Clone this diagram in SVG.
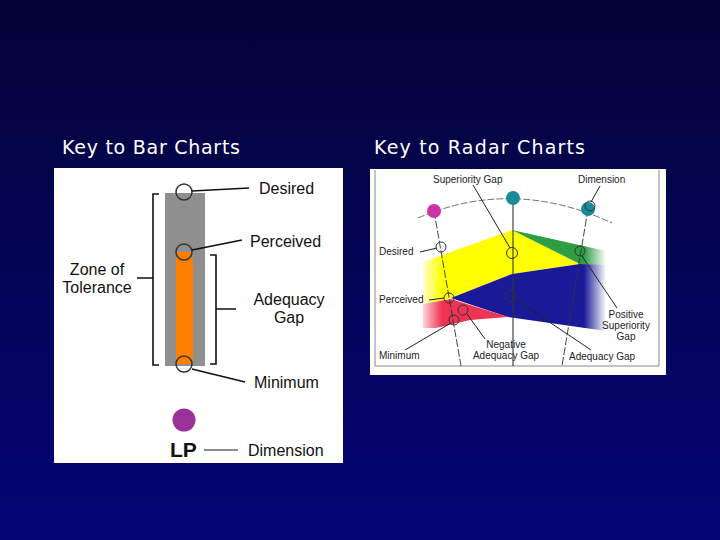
<svg xmlns="http://www.w3.org/2000/svg" width="720" height="540" viewBox="0 0 720 540">
<defs>
<linearGradient id="bg" x1="0" y1="0" x2="0" y2="1"><stop offset="0" stop-color="#040438"/><stop offset="1" stop-color="#040476"/></linearGradient>
<linearGradient id="fadeL" x1="0" y1="0" x2="1" y2="0"><stop offset="0" stop-color="#fff" stop-opacity="1"/><stop offset="1" stop-color="#fff" stop-opacity="0"/></linearGradient>
<linearGradient id="fadeR" x1="0" y1="0" x2="1" y2="0"><stop offset="0" stop-color="#fff" stop-opacity="0"/><stop offset="0.85" stop-color="#fff" stop-opacity="1"/><stop offset="1" stop-color="#fff" stop-opacity="1"/></linearGradient>
<style>
.title{font-family:"DejaVu Sans",sans-serif;font-size:19px;fill:#ffffff}
.bl{font-family:"Liberation Sans",Arial,sans-serif;font-size:16px;fill:#111}
.rl{font-family:"Liberation Sans",Arial,sans-serif;font-size:10px;fill:#222}
.ln{stroke:#111;stroke-width:1.6;fill:none}
.rln{stroke:#222;stroke-width:1;fill:none}
.ring{fill:none;stroke:#333;stroke-width:1.5}
.rring{fill:none;stroke:#333;stroke-width:1}
</style>
</defs>
<rect x="0" y="0" width="720" height="540" fill="url(#bg)"/>
<text class="title" x="62" y="154" textLength="178">Key to Bar Charts</text>
<text class="title" x="374" y="154" textLength="211">Key to Radar Charts</text>

<g id="bar-key">
<rect x="54" y="168" width="289" height="295" fill="#ffffff"/>
<rect x="165" y="193" width="40" height="173" fill="#8f8f8f"/>
<rect x="176" y="258" width="17" height="103" fill="#ff8000"/>
<path d="M176,252 A8,8 0 0 0 192,252 Z" fill="#ff8000"/>
<path d="M176,364 A8,8 0 0 1 192,364 Z" fill="#ff8000"/>
<circle class="ring" cx="184" cy="192" r="8"/>
<circle class="ring" cx="184" cy="252" r="8"/>
<circle class="ring" cx="184" cy="364" r="8"/>
<circle cx="184" cy="420" r="11.5" fill="#993399"/>
</g>
<g id="bar-labels">
<path class="ln" d="M159,194 H153 V365 H159 M153,278 H137"/>
<path class="ln" d="M210,255 H216 V364 H210 M216,309 H236"/>
<text class="bl" x="97" y="275" text-anchor="middle">Zone of</text>
<text class="bl" x="97" y="293" text-anchor="middle">Tolerance</text>
<text class="bl" x="289" y="305" text-anchor="middle">Adequacy</text>
<text class="bl" x="289" y="323" text-anchor="middle">Gap</text>
<text class="bl" x="259" y="194">Desired</text>
<text class="bl" x="250" y="247">Perceived</text>
<text class="bl" x="254" y="388">Minimum</text>
<text x="170" y="457" style="font-family:'Liberation Sans',Arial,sans-serif;font-size:21px;font-weight:bold;fill:#111">LP</text>
<text class="bl" x="248" y="456">Dimension</text>
</g>
<g id="bar-connectors">
<line class="ln" x1="192" y1="191" x2="249" y2="188"/>
<line class="ln" x1="192" y1="250" x2="242" y2="240"/>
<line class="ln" x1="192" y1="369" x2="245" y2="382"/>
<line x1="204" y1="450" x2="238" y2="450" stroke="#666" stroke-width="1.5"/>
</g>

<g id="radar-key">
<rect x="370" y="169" width="296" height="206" fill="#ffffff"/>
<path d="M375,170 V366 H659 V170" fill="none" stroke="#888" stroke-width="1"/>
<polygon points="423,262 512,230 580,264 512,274 451,298 433,304 423,303" fill="#ffff00"/>
<polygon points="512,230 606,251 606,266 580,264" fill="#2e9e44"/>
<polygon points="451,298 512,274 580,264 606,265 606,331 508,317" fill="#1a1a99"/>
<polygon points="423,304 451,299 508,317 470,320 436,328 423,328" fill="#ee3355"/>
<rect x="418" y="255" width="24" height="78" fill="url(#fadeL)"/>
<rect x="584" y="245" width="26" height="90" fill="url(#fadeR)"/>
<path d="M418,218 Q513,177 612,223" fill="none" stroke="#333" stroke-width="0.7" stroke-dasharray="7,2"/>
<line x1="434" y1="211" x2="461" y2="366" stroke="#333" stroke-width="0.9" stroke-dasharray="8,2"/>
<line x1="513" y1="198" x2="513" y2="366" stroke="#333" stroke-width="1.1"/>
<line x1="588" y1="209" x2="562" y2="366" stroke="#333" stroke-width="0.9" stroke-dasharray="8,2"/>
<circle cx="434" cy="211" r="7" fill="#cc33aa"/>
<circle cx="513" cy="198" r="7" fill="#1a8c99"/>
<circle cx="588" cy="209" r="7" fill="#1a8c99"/>
<circle class="rring" cx="590" cy="206" r="5"/>
<circle class="rring" cx="441" cy="247" r="5"/>
<circle class="rring" cx="449" cy="298" r="5"/>
<circle class="rring" cx="463" cy="310" r="5"/>
<circle class="rring" cx="454" cy="320" r="5"/>
<circle class="rring" cx="512" cy="253" r="5.5"/>
<circle class="rring" cx="511" cy="296" r="5.5"/>
<circle class="rring" cx="580" cy="251" r="5"/>
</g>
<g id="radar-connectors">
<line class="rln" x1="473" y1="185" x2="510" y2="248"/>
<line class="rln" x1="600" y1="186" x2="591" y2="202"/>
<line class="rln" x1="420" y1="252" x2="437" y2="248"/>
<line class="rln" x1="429" y1="300" x2="444" y2="298"/>
<line class="rln" x1="405" y1="350" x2="451" y2="323"/>
<line class="rln" x1="467" y1="314" x2="485" y2="339"/>
<line class="rln" x1="515" y1="299" x2="591" y2="350"/>
<line class="rln" x1="582" y1="256" x2="617" y2="308"/>
</g>
<g id="radar-labels">
<text class="rl" x="433" y="183">Superiority Gap</text>
<text class="rl" x="578" y="183">Dimension</text>
<text class="rl" x="379" y="255">Desired</text>
<text class="rl" x="379" y="303">Perceived</text>
<text class="rl" x="379" y="359">Minimum</text>
<text class="rl" x="506" y="348" text-anchor="middle">Negative</text>
<text class="rl" x="506" y="359" text-anchor="middle">Adequacy Gap</text>
<text class="rl" x="569" y="360">Adequacy Gap</text>
<text class="rl" x="626" y="318" text-anchor="middle">Positive</text>
<text class="rl" x="626" y="329" text-anchor="middle">Superiority</text>
<text class="rl" x="626" y="340" text-anchor="middle">Gap</text>
</g>
</svg>
